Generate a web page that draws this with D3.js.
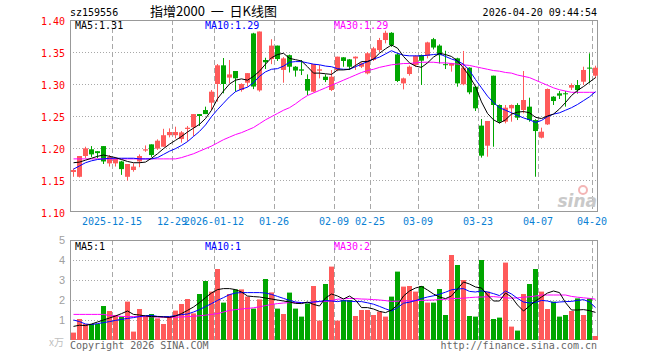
<!DOCTYPE html>
<html>
<head>
<meta charset="utf-8">
<script src="https://cdn.jsdelivr.net/npm/d3@7"></script>
<style>
body { margin: 0; background: #fff; }
svg text { font-family: "DejaVu Sans Mono", monospace; font-size: 10px; }
</style>
</head>
<body>
<script>
var dates = ("2025-12-04 2025-12-05 2025-12-08 2025-12-09 2025-12-10 2025-12-11 2025-12-12 " +
  "2025-12-15 2025-12-16 2025-12-17 2025-12-18 2025-12-19 2025-12-22 2025-12-23 2025-12-24 2025-12-25 2025-12-26 " +
  "2025-12-29 2025-12-30 2025-12-31 2026-01-05 2026-01-06 2026-01-07 2026-01-08 " +
  "2026-01-12 2026-01-13 2026-01-14 2026-01-15 2026-01-16 2026-01-19 2026-01-20 2026-01-21 2026-01-22 2026-01-23 " +
  "2026-01-26 2026-01-27 2026-01-28 2026-01-29 2026-01-30 2026-02-02 2026-02-03 2026-02-04 2026-02-05 2026-02-06 " +
  "2026-02-09 2026-02-10 2026-02-11 2026-02-12 2026-02-13 2026-02-24 " +
  "2026-02-25 2026-02-26 2026-02-27 2026-03-02 2026-03-03 2026-03-04 2026-03-05 2026-03-06 " +
  "2026-03-09 2026-03-10 2026-03-11 2026-03-12 2026-03-13 2026-03-16 2026-03-17 2026-03-18 2026-03-19 2026-03-20 " +
  "2026-03-23 2026-03-24 2026-03-25 2026-03-26 2026-03-27 2026-03-30 2026-03-31 2026-04-01 2026-04-02 2026-04-03 " +
  "2026-04-07 2026-04-08 2026-04-09 2026-04-10 2026-04-13 2026-04-14 2026-04-15 2026-04-16 2026-04-17 2026-04-20").split(" ");

var open = [1.1625,1.155,1.1875,1.198,1.195,1.203,1.176,1.176,1.179,1.155,
  1.1656,1.179,1.196,1.2057,1.199,1.202,1.22,1.22,1.214,1.2297,
  1.2323,1.253,1.2593,1.2708,1.30,1.3292,1.31,1.3203,1.2906,1.302,
  1.379,1.290,1.3375,1.339,1.360,1.322,1.345,1.327,1.3229,1.3078,
  1.288,1.3208,1.3114,1.2906,1.3218,1.3417,1.3385,1.340,1.327,1.3166,
  1.3375,1.353,1.3687,1.380,1.3463,1.301,1.3156,1.3297,1.3453,1.344,
  1.370,1.360,1.331,1.3286,1.3401,1.2995,1.3255,1.2958,1.235,1.2036,
  1.313,1.2672,1.2411,1.262,1.2672,1.2594,1.2646,1.2437,1.2161,1.2369,
  1.2802,1.2854,1.2855,1.2943,1.2984,1.3036,1.3256,1.313];
var high = [1.168,1.1875,1.202,1.203,1.195,1.203,1.189,1.186,1.180,1.175,
  1.176,1.19,1.204,1.2057,1.2135,1.23,1.2307,1.2333,1.2265,1.2344,
  1.253,1.253,1.2646,1.2906,1.3312,1.3406,1.3375,1.3203,1.301,1.317,
  1.380,1.382,1.341,1.370,1.360,1.342,1.346,1.328,1.3375,1.315,
  1.3312,1.3297,1.315,1.3218,1.3427,1.342,1.339,1.343,1.334,1.350,
  1.358,1.372,1.3833,1.381,1.348,1.310,1.329,1.345,1.346,1.366,
  1.372,1.362,1.352,1.333,1.341,1.3516,1.326,1.297,1.2453,1.2422,
  1.313,1.268,1.2672,1.268,1.27,1.3203,1.2786,1.245,1.2318,1.293,
  1.281,1.289,1.289,1.301,1.3062,1.327,1.3479,1.3286];
var low = [1.155,1.154,1.184,1.186,1.184,1.175,1.171,1.171,1.158,1.149,
  1.163,1.17,1.194,1.186,1.197,1.202,1.2166,1.215,1.2083,1.2099,
  1.2187,1.2344,1.253,1.2593,1.2724,1.2854,1.301,1.288,1.288,1.2958,
  1.292,1.288,1.3234,1.331,1.336,1.302,1.318,1.3115,1.314,1.2828,
  1.287,1.3088,1.303,1.289,1.320,1.327,1.322,1.322,1.325,1.315,
  1.336,1.350,1.3635,1.358,1.303,1.2916,1.313,1.327,1.2984,1.34,
  1.354,1.332,1.3234,1.3193,1.2958,1.298,1.284,1.2578,1.185,1.1864,
  1.202,1.2385,1.2385,1.2411,1.2437,1.2542,1.2411,1.1551,1.215,1.236,
  1.2672,1.2766,1.2646,1.2906,1.285,1.2984,1.301,1.309];
var close = [1.1656,1.1875,1.1995,1.190,1.192,1.179,1.186,1.183,1.167,1.175,
  1.171,1.1875,1.198,1.189,1.2114,1.22,1.225,1.225,1.2244,1.2317,
  1.253,1.25,1.253,1.288,1.3292,1.30,1.315,1.3089,1.30,1.317,
  1.296,1.382,1.334,1.360,1.339,1.340,1.327,1.321,1.3208,1.2896,
  1.3312,1.3229,1.3062,1.3114,1.3427,1.336,1.327,1.3427,1.3323,1.348,
  1.3557,1.3687,1.380,1.361,1.3047,1.3088,1.327,1.3437,1.3364,1.365,
  1.357,1.345,1.330,1.3323,1.301,1.3255,1.287,1.262,1.188,1.2422,
  1.2672,1.2411,1.263,1.2672,1.2474,1.275,1.2437,1.2265,1.2255,1.2922,
  1.2734,1.2818,1.2854,1.2984,1.2906,1.3219,1.3255,1.3255];

var volume = [0.37,1.05,0.8,0.8,0.8,1.7,1.45,1.25,1.17,1.92,
  0.42,1.55,1.17,1.3,1.08,0.8,1.17,1.47,1.8,2.05,
  1.33,2.3,2.95,2.42,3.55,1.87,2.3,2.53,2.53,2.17,
  1.57,2.03,3.05,2.38,1.57,1.3,2.37,1.57,1.17,1.83,
  2.7,0.97,2.8,3.67,0.97,2.0,2.0,1.2,1.5,1.5,
  1.25,1.42,1.17,2.17,3.42,2.67,2.7,2.42,2.7,1.87,
  1.87,2.55,1.25,4.25,3.75,3.0,1.2,1.17,4.0,2.42,
  1.05,1.12,3.87,0.67,0.47,2.3,2.8,3.55,2.42,1.55,
  1.92,1.17,1.25,1.45,2.08,1.25,2.08,0.2];

var ma5 = [1.177,1.178,1.181,1.184,1.187,1.189,1.187,1.185,1.182,1.179,
  1.177,1.177,1.178,1.184,1.191,1.199,1.206,1.212,1.218,1.225,
  1.231,1.237,1.246,1.259,1.277,1.289,1.300,1.306,1.308,1.306,
  1.312,1.320,1.331,1.341,1.346,1.348,1.340,1.338,1.336,1.327,
  1.317,1.317,1.316,1.315,1.322,1.322,1.323,1.329,1.335,1.335,
  1.339,1.348,1.355,1.361,1.356,1.343,1.333,1.328,1.326,1.333,
  1.342,1.348,1.346,1.343,1.336,1.325,1.312,1.296,1.272,1.254,
  1.244,1.239,1.244,1.253,1.256,1.257,1.255,1.248,1.246,1.250,
  1.253,1.261,1.271,1.282,1.290,1.296,1.303,1.310];
var ma10 = [1.167,1.172,1.177,1.180,1.182,1.183,1.184,1.184,1.184,1.184,
  1.184,1.183,1.183,1.183,1.185,1.190,1.195,1.199,1.204,1.210,
  1.218,1.226,1.236,1.249,1.260,1.270,1.280,1.288,1.292,1.295,
  1.302,1.312,1.319,1.323,1.324,1.328,1.334,1.335,1.335,1.333,
  1.331,1.330,1.328,1.327,1.324,1.323,1.323,1.327,1.331,1.335,
  1.339,1.342,1.347,1.352,1.348,1.345,1.344,1.344,1.344,1.345,
  1.346,1.347,1.343,1.339,1.336,1.331,1.321,1.307,1.294,1.281,
  1.271,1.263,1.259,1.255,1.251,1.247,1.244,1.240,1.243,1.249,
  1.253,1.255,1.259,1.263,1.268,1.274,1.280,1.288];
var ma30 = [1.183,1.183,1.183,1.183,1.183,1.183,1.183,1.183,1.183,1.183,
  1.183,1.183,1.183,1.183,1.183,1.183,1.183,1.183,1.185,1.188,
  1.191,1.195,1.199,1.203,1.208,1.213,1.217,1.221,1.224,1.228,
  1.232,1.238,1.244,1.249,1.254,1.259,1.263,1.269,1.276,1.282,
  1.286,1.290,1.294,1.298,1.302,1.306,1.310,1.314,1.318,1.321,
  1.323,1.326,1.328,1.330,1.331,1.332,1.332,1.333,1.334,1.334,
  1.334,1.333,1.333,1.332,1.331,1.330,1.329,1.327,1.325,1.323,
  1.321,1.320,1.318,1.317,1.314,1.312,1.310,1.306,1.302,1.298,
  1.294,1.291,1.289,1.287,1.287,1.287,1.287,1.287];

var vma5 = [0.68,0.74,0.72,0.80,0.90,1.00,1.10,1.20,1.32,1.45,
  1.28,1.25,1.20,1.17,1.17,1.15,1.13,1.20,1.32,1.48,
  1.65,1.87,2.12,2.35,2.52,2.57,2.57,2.52,2.40,2.20,
  2.17,2.15,2.10,2.05,2.00,1.95,1.90,1.83,1.82,1.90,
  1.78,1.70,2.10,2.30,2.20,2.05,2.20,2.00,1.62,1.62,
  1.55,1.43,1.37,1.50,1.75,2.20,2.45,2.60,2.68,2.50,
  2.30,2.15,2.07,2.20,2.55,2.90,2.80,2.65,2.60,2.25,
  1.95,1.95,2.35,2.15,1.75,1.45,1.70,1.95,2.15,2.35,
  2.45,2.37,1.87,1.50,1.50,1.52,1.47,1.38];
var vma10 = [1.00,0.92,0.80,0.77,0.82,0.87,0.92,0.98,1.03,1.08,
  1.12,1.17,1.22,1.23,1.18,1.17,1.17,1.22,1.27,1.30,
  1.40,1.52,1.67,1.82,1.98,2.12,2.27,2.35,2.37,2.37,
  2.37,2.37,2.35,2.28,2.18,2.08,1.98,1.90,1.87,1.87,
  1.90,1.93,1.97,1.95,1.92,1.97,1.94,1.92,1.92,1.86,
  1.79,1.68,1.56,1.45,1.62,1.84,1.89,1.97,2.07,2.15,
  2.21,2.29,2.39,2.51,2.55,2.57,2.43,2.40,2.46,2.40,
  2.32,2.22,2.45,2.30,2.08,1.90,1.85,1.88,1.98,1.95,
  1.87,1.90,1.92,1.93,1.98,2.02,1.90,1.62];
var vma30 = [1.28,1.28,1.28,1.28,1.28,1.28,1.22,1.20,1.18,1.17,
  1.17,1.17,1.17,1.16,1.15,1.14,1.13,1.14,1.15,1.17,
  1.19,1.21,1.24,1.28,1.32,1.40,1.48,1.52,1.55,1.58,
  1.61,1.66,1.72,1.78,1.82,1.85,1.87,1.87,1.87,1.87,
  1.90,1.92,1.92,1.97,2.04,2.06,2.08,2.07,2.05,2.04,
  2.02,2.00,1.97,1.93,1.94,1.95,1.96,1.97,1.98,1.99,
  2.00,2.02,2.04,2.07,2.08,2.09,2.12,2.14,2.15,2.16,
  2.17,2.14,2.11,2.09,2.11,2.14,2.16,2.20,2.25,2.25,
  2.25,2.25,2.25,2.18,2.14,2.11,2.08,2.04];

var tickDates = ["2025-12-15","2025-12-29","2026-01-12","2026-01-26","2026-02-09",
  "2026-02-25","2026-03-09","2026-03-23","2026-04-07","2026-04-20"];
var tickLabels = ["2025-12-15","12-29","2026-01-12","01-26","02-09",
  "02-25","03-09","03-23","04-07","04-20"];
var priceTicks = [1.10,1.15,1.20,1.25,1.30,1.35,1.40];
var volTicks = [1,2,3,4,5];

var RED = "#ff5a5a", GREEN = "#00a600", GRID = "#a8a8a8";

var svg = d3.select("body").append("svg")
  .attr("width", 660)
  .attr("height", 360);

var x = d3.scaleBand().domain(dates).range([70, 598]);
var y = d3.scaleLinear().domain([1.10, 1.40]).range([212, 20]);
var vy = d3.scaleLinear().domain([0, 5]).range([340, 240]);
var cx = d => x(d) + 3.5;

// header
svg.append("text").attr("x", 70).attr("y", 16).text("sz159556");
svg.append("text").attr("x", 150).attr("y", 16)
  .style("font-family", "'Noto Sans CJK SC', sans-serif").style("font-size", "13px")
  .style("white-space", "pre")
  .text("指增2000  一  日K线图");
svg.append("text").attr("x", 597).attr("y", 16).attr("text-anchor", "end")
  .text("2026-04-20 09:44:54");

function panel(top, bottom, scale, ticks) {
  var g = svg.append("g");
  g.selectAll(".hg").data(ticks.filter(t => scale(t) > top + 1 && scale(t) < bottom - 1))
    .enter().append("line")
    .attr("x1", 70).attr("x2", 598)
    .attr("y1", t => Math.round(scale(t)) + 0.5).attr("y2", t => Math.round(scale(t)) + 0.5)
    .attr("stroke", GRID).attr("stroke-dasharray", "1,2");
  g.selectAll(".vg").data(tickDates).enter().append("line")
    .attr("x1", d => x(d) + 0.5).attr("x2", d => x(d) + 0.5)
    .attr("y1", top).attr("y2", bottom)
    .attr("stroke", GRID).attr("stroke-dasharray", "5,3");
  g.append("rect")
    .attr("x", 70.5).attr("y", top + 0.5)
    .attr("width", 527).attr("height", bottom - top - 1)
    .attr("fill", "none").attr("stroke", "#999");
  return g;
}

// price panel
panel(20, 212, y, priceTicks);
svg.selectAll(".plab").data(priceTicks).enter().append("text")
  .attr("x", 65).attr("y", t => y(t) + 5).attr("text-anchor", "end")
  .attr("fill", "#f00").text(t => t.toFixed(2));

// sina watermark
svg.append("circle").attr("cx", 583).attr("cy", 190).attr("r", 4)
  .attr("fill", "none").attr("stroke", "#f3b5b5").attr("stroke-width", 2);
svg.append("text").attr("x", 597).attr("y", 207).attr("text-anchor", "end")
  .style("font-family", "'DejaVu Sans', sans-serif").style("font-size", "17px")
  .style("font-weight", "bold").style("font-style", "italic")
  .attr("fill", "#c9c9c9").text("sina");

var idx = d3.range(dates.length);

var candles = svg.append("g");
candles.selectAll("line").data(idx).enter().append("line")
  .attr("x1", i => cx(dates[i])).attr("x2", i => cx(dates[i]))
  .attr("y1", i => y(high[i])).attr("y2", i => y(low[i]))
  .attr("stroke", i => close[i] >= open[i] ? RED : GREEN);
candles.selectAll("rect").data(idx).enter().append("rect")
  .attr("x", i => x(dates[i]) + 1)
  .attr("width", 5)
  .attr("y", i => y(Math.max(open[i], close[i])))
  .attr("height", i => Math.max(1, Math.abs(y(open[i]) - y(close[i]))))
  .attr("fill", i => close[i] >= open[i] ? RED : GREEN);

function maLine(values, scale, color) {
  svg.append("path")
    .datum(idx)
    .attr("fill", "none").attr("stroke", color).attr("stroke-width", 1)
    .attr("d", d3.line().x(i => cx(dates[i])).y(i => scale(values[i])));
}
maLine(ma30, y, "#ff00ff");
maLine(ma10, y, "#0000ff");
maLine(ma5, y, "#000");

svg.append("text").attr("x", 75).attr("y", 29).text("MA5:1.31");
svg.append("text").attr("x", 205).attr("y", 29).attr("fill", "#00f").text("MA10:1.29");
svg.append("text").attr("x", 334).attr("y", 29).attr("fill", "#f0f").text("MA30:1.29");

// date labels (12-29 and 2026-01-12 touch in the original too)
svg.selectAll(".xlab").data(tickDates).enter().append("text")
  .attr("x", d => x(d)).attr("y", 225).attr("text-anchor", "middle")
  .attr("fill", "#0a7fd4").text((d, i) => tickLabels[i]);

// volume panel
panel(240, 340, vy, volTicks);
svg.selectAll(".vlab").data(volTicks).enter().append("text")
  .attr("x", 65).attr("y", t => vy(t) + 4).attr("text-anchor", "end")
  .style("font-family", "'Liberation Sans', sans-serif").style("font-size", "11px")
  .attr("fill", "#a0a0a0").text(t => t);
svg.append("text").attr("x", 64).attr("y", 346).attr("text-anchor", "end")
  .style("font-family", "'Noto Sans CJK SC', sans-serif").style("font-size", "10px")
  .attr("fill", "#c0c0c0").text("x万");

svg.append("g").selectAll("rect").data(idx).enter().append("rect")
  .attr("x", i => x(dates[i]) + 1)
  .attr("width", 5)
  .attr("y", i => vy(volume[i]))
  .attr("height", i => 340 - vy(volume[i]))
  .attr("fill", i => close[i] >= open[i] ? RED : GREEN);

maLine(vma30, vy, "#ff00ff");
maLine(vma10, vy, "#0000ff");
maLine(vma5, vy, "#000");

svg.append("text").attr("x", 75).attr("y", 250).text("MA5:1");
svg.append("text").attr("x", 205).attr("y", 250).attr("fill", "#00f").text("MA10:1");
svg.append("text").attr("x", 334).attr("y", 250).attr("fill", "#f0f").text("MA30:2");

// footer
svg.append("text").attr("x", 70).attr("y", 349).attr("fill", "#666")
  .text("Copyright 2026 SINA.COM");
svg.append("text").attr("x", 597).attr("y", 349).attr("text-anchor", "end").attr("fill", "#666")
  .text("http://finance.sina.com.cn");
</script>
</body>
</html>
